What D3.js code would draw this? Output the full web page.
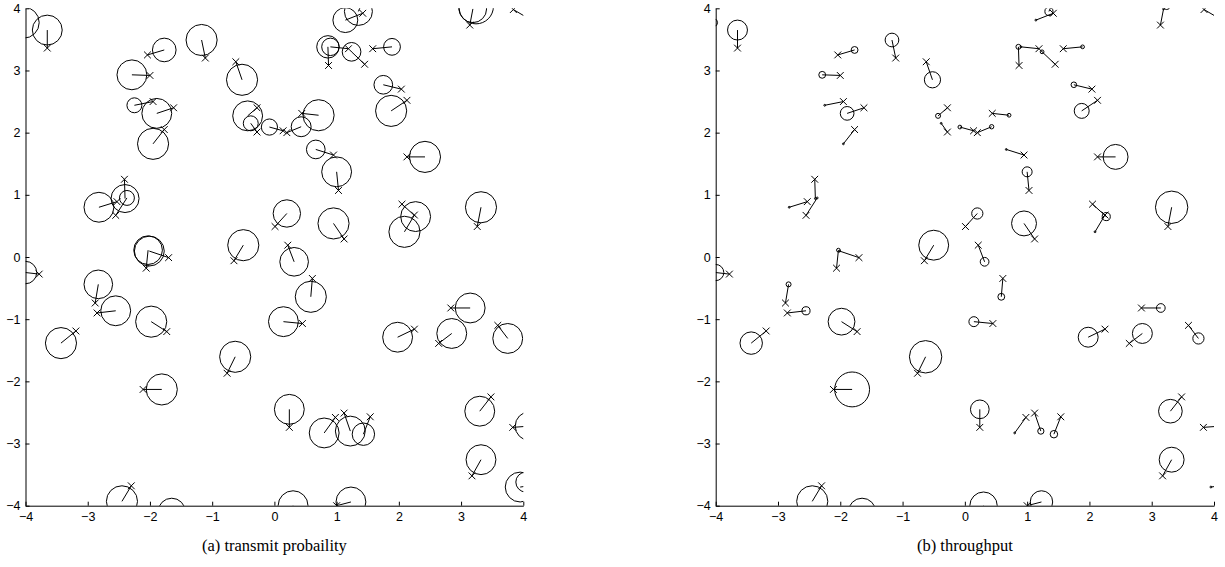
<!DOCTYPE html>
<html>
<head>
<meta charset="utf-8">
<title>Links</title>
<script src="https://d3js.org/d3.v7.min.js"></script>
<style>
	body { margin: 0; background: #fff; }
	svg { display: block; }
	.tick text { font-family: "Liberation Sans", Arial, sans-serif; font-size: 12.5px; }
	.caption { font-family: "Liberation Serif", "Times New Roman", serif; font-size: 16.5px; }
</style>
</head>
<body>
<svg id="chart" width="1225" height="567"></svg>
<script>
// transmitters (x marks)
var txX = [-4.3,-3.65,-2.04,-2.0,-1.11,-0.62,-1.95,-1.62,-1.77,-0.28,-0.28,0.14,0.2,1.42,1.5,3.14,3.35,3.84,
	0.87,1.19,1.45,1.58,2.04,2.13,0.44,0.95,1.03,2.13,-2.41,-2.55,-2.53,-2.06,-1.70,-3.78,-0.65,0.01,
	-2.88,-2.85,-1.73,-3.19,-0.76,0.45,1.12,0.215,0.61,2.05,2.25,3.26,2.835,2.25,2.64,3.59,
	-2.11,-2.30,-1.6,0.24,0.98,1.12,1.54,3.48,3.83,3.175,4.3,4.4,0.35,1.0];
var txY = [3.8,3.36,3.25,2.92,3.2,3.14,2.5,2.4,2.05,2.4,2.01,2.03,2.0,3.92,4.3,3.73,4.35,3.98,
	3.08,3.35,3.1,3.35,2.70,2.52,2.31,1.64,1.07,1.61,1.25,0.67,0.89,-0.18,-0.01,-0.275,-0.06,0.49,
	-0.74,-0.9,-1.2,-1.19,-1.87,-1.07,0.29,0.19,-0.345,0.85,0.675,0.49,-0.82,-1.16,-1.39,-1.10,
	-2.13,-3.68,-4.4,-2.74,-2.58,-2.51,-2.57,-2.25,-2.74,-3.52,-3.65,-3.5,-4.3,-4.0];
// receivers (circle centres)
var rxX = [-4.03,-3.65,-1.77,-2.29,-1.17,-0.52,-2.25,-1.89,-1.95,-0.43,-0.38,-0.08,0.43,1.14,1.35,3.19,3.24,4.35,
	0.86,0.9,1.24,1.89,1.75,1.876,0.71,0.665,1.0,2.42,-2.40,-2.37,-2.82,-2.03,-2.01,-4.0,-0.5,0.2,
	-2.83,-2.55,-1.98,-3.43,-0.63,0.145,0.95,0.317,0.585,2.27,2.09,3.32,3.146,1.98,2.85,3.75,
	-1.81,-2.45,-1.65,0.24,0.80,1.22,1.43,3.30,4.1,3.32,3.95,4.04,0.3,1.23];
var rxY = [3.77,3.65,3.33,2.93,3.49,2.85,2.44,2.31,1.82,2.27,2.15,2.09,2.095,3.81,3.95,3.99,4.03,3.68,
	3.38,3.38,3.30,3.38,2.77,2.35,2.28,1.73,1.37,1.61,0.94,0.95,0.80,0.11,0.095,-0.25,0.19,0.70,
	-0.44,-0.865,-1.04,-1.385,-1.605,-1.04,0.54,-0.077,-0.64,0.65,0.405,0.8,-0.82,-1.29,-1.23,-1.31,
	-2.13,-3.93,-4.1,-2.45,-2.83,-2.80,-2.85,-2.48,-2.72,-3.26,-3.70,-3.62,-4.0,-3.94];
// circle radius, panel (a) transmit probability
var radProb = [0.25,0.24,0.19,0.24,0.25,0.25,0.12,0.24,0.25,0.24,0.12,0.13,0.16,0.2,0.225,0.22,0.28,0.25,
	0.18,0.14,0.15,0.135,0.15,0.25,0.25,0.15,0.24,0.25,0.225,0.12,0.24,0.23,0.24,0.18,0.25,0.22,
	0.23,0.24,0.25,0.25,0.25,0.24,0.25,0.23,0.25,0.24,0.25,0.25,0.24,0.24,0.24,0.24,
	0.25,0.25,0.22,0.24,0.24,0.24,0.18,0.24,0.23,0.24,0.24,0.16,0.24,0.24];
// circle radius, panel (b) throughput
var radThru = [0.06,0.16,0.055,0.055,0.11,0.13,0.012,0.11,0.012,0.04,0.012,0.03,0.035,0.012,0.065,0.012,0.05,0.05,
	0.04,0.012,0.03,0.03,0.045,0.12,0.03,0.012,0.08,0.2,0.012,0.012,0.012,0.03,0.012,0.13,0.24,0.09,
	0.04,0.065,0.215,0.18,0.26,0.08,0.2,0.07,0.055,0.065,0.012,0.26,0.07,0.16,0.16,0.09,
	0.28,0.25,0.22,0.15,0.012,0.05,0.06,0.19,0.05,0.2,0.012,0.012,0.22,0.18];

var tickVals = [-4,-3,-2,-1,0,1,2,3,4];
var captions = ["(a) transmit probaility", "(b) throughput"];

var svg = d3.select("#chart");

var panels = [
	{left: 25.5, right: 523.3, rad: radProb, cap: captions[0]},
	{left: 715.7, right: 1214, rad: radThru, cap: captions[1]}
];
var plotTop = 8.3, plotBottom = 505.7;

panels.forEach(function(p, i) {
	var x = d3.scaleLinear().domain([-4, 4]).range([p.left, p.right]);
	var y = d3.scaleLinear().domain([-4, 4]).range([plotBottom, plotTop]);
	var unit = x(1) - x(0);

	var clipId = "clip" + i;
	svg.append("clipPath").attr("id", clipId)
		.append("rect")
		.attr("x", p.left).attr("y", plotTop)
		.attr("width", p.right - p.left).attr("height", plotBottom - plotTop);

	var g = svg.append("g").attr("clip-path", "url(#" + clipId + ")");

	var idx = d3.range(txX.length);

	// links
	g.selectAll("line.link").data(idx).enter().append("line")
		.attr("class", "link")
		.attr("x1", function(d) { return x(txX[d]); })
		.attr("y1", function(d) { return y(txY[d]); })
		.attr("x2", function(d) { return x(rxX[d]); })
		.attr("y2", function(d) { return y(rxY[d]); })
		.attr("stroke", "#000").attr("stroke-width", 1);

	// receivers
	g.selectAll("circle").data(idx).enter().append("circle")
		.attr("cx", function(d) { return x(rxX[d]); })
		.attr("cy", function(d) { return y(rxY[d]); })
		.attr("r", function(d) { return Math.max(p.rad[d] * unit, 0.9); })
		.attr("fill", "none").attr("stroke", "#000").attr("stroke-width", 1);

	// transmitters
	var s = 3.4;
	g.selectAll("path.tx").data(idx).enter().append("path")
		.attr("class", "tx")
		.attr("d", function(d) {
			var cx = x(txX[d]), cy = y(txY[d]);
			return "M" + (cx - s) + "," + (cy - s) + "L" + (cx + s) + "," + (cy + s) +
				"M" + (cx - s) + "," + (cy + s) + "L" + (cx + s) + "," + (cy - s);
		})
		.attr("stroke", "#000").attr("stroke-width", 1).attr("fill", "none");

	// axes, ticks inward, no box
	svg.append("g")
		.attr("transform", "translate(0," + plotBottom + ")")
		.call(d3.axisBottom(x).tickValues(tickVals).tickSizeInner(-4).tickSizeOuter(0).tickPadding(6));

	svg.append("g")
		.attr("transform", "translate(" + p.left + ",0)")
		.call(d3.axisLeft(y).tickValues(tickVals).tickSizeInner(-4).tickSizeOuter(0).tickPadding(5));

	svg.append("text")
		.attr("class", "caption")
		.attr("x", (p.left + p.right) / 2)
		.attr("y", 551)
		.attr("text-anchor", "middle")
		.text(p.cap);
});
</script>
</body>
</html>
